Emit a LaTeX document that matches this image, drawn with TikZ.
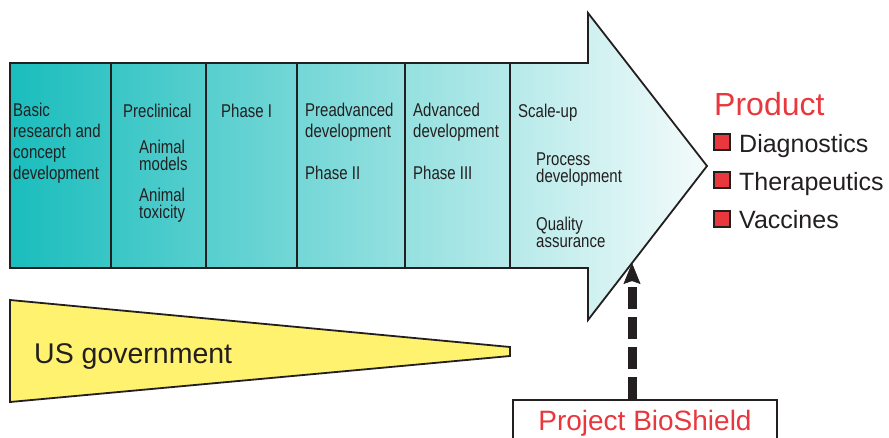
\documentclass[tikz,border=0pt]{standalone}
\usepackage{fontspec}
\setmainfont{Liberation Sans}
\newfontfamily\narrowsans[FakeStretch=0.81]{Liberation Sans}
\usepackage{tikz}
\usetikzlibrary{arrows.meta, positioning, calc}
\definecolor{tealdark}{HTML}{1ABDBD}
\definecolor{teallight}{HTML}{F4FBFB}
\definecolor{govyellow}{HTML}{FFF26E}
\definecolor{prodred}{HTML}{E8383D}
\definecolor{inkblack}{HTML}{231F20}
\tikzset{
  stagetext/.style={
    anchor=base west, align=left, inner sep=0pt,
    font=\narrowsans\fontsize{18.5}{20.7}\selectfont, text=inkblack,
  },
  subtext/.style={
    stagetext, font=\narrowsans\fontsize{18.5}{17}\selectfont,
  },
  outline/.style={draw=inkblack, line width=1.8pt, line join=miter},
  divider/.style={draw=inkblack, line width=1.8pt},
  govshape/.style={draw=inkblack, line width=1.8pt, fill=govyellow},
  govtext/.style={anchor=base west, inner sep=0pt, font=\fontsize{28.5}{32}\selectfont, text=inkblack},
  prodhead/.style={anchor=base west, inner sep=0pt, font=\fontsize{32}{36}\selectfont, text=prodred},
  itembox/.style={
    rectangle, draw=inkblack, line width=1.3pt,
    fill=prodred, minimum size=16pt, inner sep=0pt,
  },
  itemtext/.style={anchor=base west, inner sep=0pt, font=\fontsize{25}{28}\selectfont, text=inkblack},
  shieldbox/.style={
    rectangle, draw=inkblack, line width=1.8pt, fill=white,
    minimum width=264pt, inner xsep=0pt, inner ysep=11pt,
    text height=20pt, text depth=6pt,
    font=\fontsize{28}{30}\selectfont, text=prodred,
  },
  dasharrow/.style={
    -{Stealth[length=21pt, width=17pt, inset=3pt, line width=0.5pt]},
    line width=9pt, dash pattern=on 22pt off 8pt, draw=inkblack,
  },
}

\begin{document}
\begin{tikzpicture}[x=1pt, y=-1pt]

  \useasboundingbox (0,0) rectangle (889,437);
  \clip (0,0) rectangle (889,437);

  % pipeline arrow
  \shadedraw[outline, left color=tealdark, right color=teallight]
    (10,63) -- (588,63) -- (588,13) -- (707,166) -- (588,320) -- (588,268) -- (10,268) -- cycle;
  \foreach \xd in {111,206,297,405,510}
    \draw[divider] (\xd,63) -- (\xd,268);

  % stage labels (base = last line)
  \node[stagetext] (basic) at (13,179) {Basic\\research and\\concept\\development};
  \node[stagetext] (precl) at (123,117) {Preclinical};
  \node[subtext] (models) at (139,170) {Animal\\models};
  \node[subtext] (toxic) at (139,218) {Animal\\toxicity};
  \node[stagetext] (phase1) at (221,117) {Phase I};
  \node[stagetext] (preadv) at (305,137.5) {Preadvanced\\development};
  \node[stagetext] (phase2) at (305,179) {Phase II};
  \node[stagetext] (adv) at (413,137.5) {Advanced\\development};
  \node[stagetext] (phase3) at (413,179) {Phase III};
  \node[stagetext] (scale) at (518,117) {Scale-up};
  \node[subtext] (process) at (536,182) {Process\\development};
  \node[subtext] (quality) at (536,247) {Quality\\assurance};

  % products
  \node[prodhead] (product) at (714,115) {Product};
  \node[itembox] (sq1) at (722,142) {};
  \node[itembox] (sq2) at (722,180) {};
  \node[itembox] (sq3) at (722,219) {};
  \node[itemtext] (diag) at (739,152) {Diagnostics};
  \node[itemtext] (thera) at (739,190) {Therapeutics};
  \node[itemtext] (vacc) at (739,228) {Vaccines};

  % funding wedge
  \filldraw[govshape] (10,300) -- (510,347) -- (510,356) -- (10,402) -- cycle;
  \node[govtext] (gov) at (34,363) {US government};

  \node[shieldbox, anchor=north] (shield) at (645,399) {Project BioShield};
  \coordinate (headpt) at (632,263);
  \draw[dasharrow] (shield.north -| headpt) -- (headpt);

\end{tikzpicture}
\end{document}
